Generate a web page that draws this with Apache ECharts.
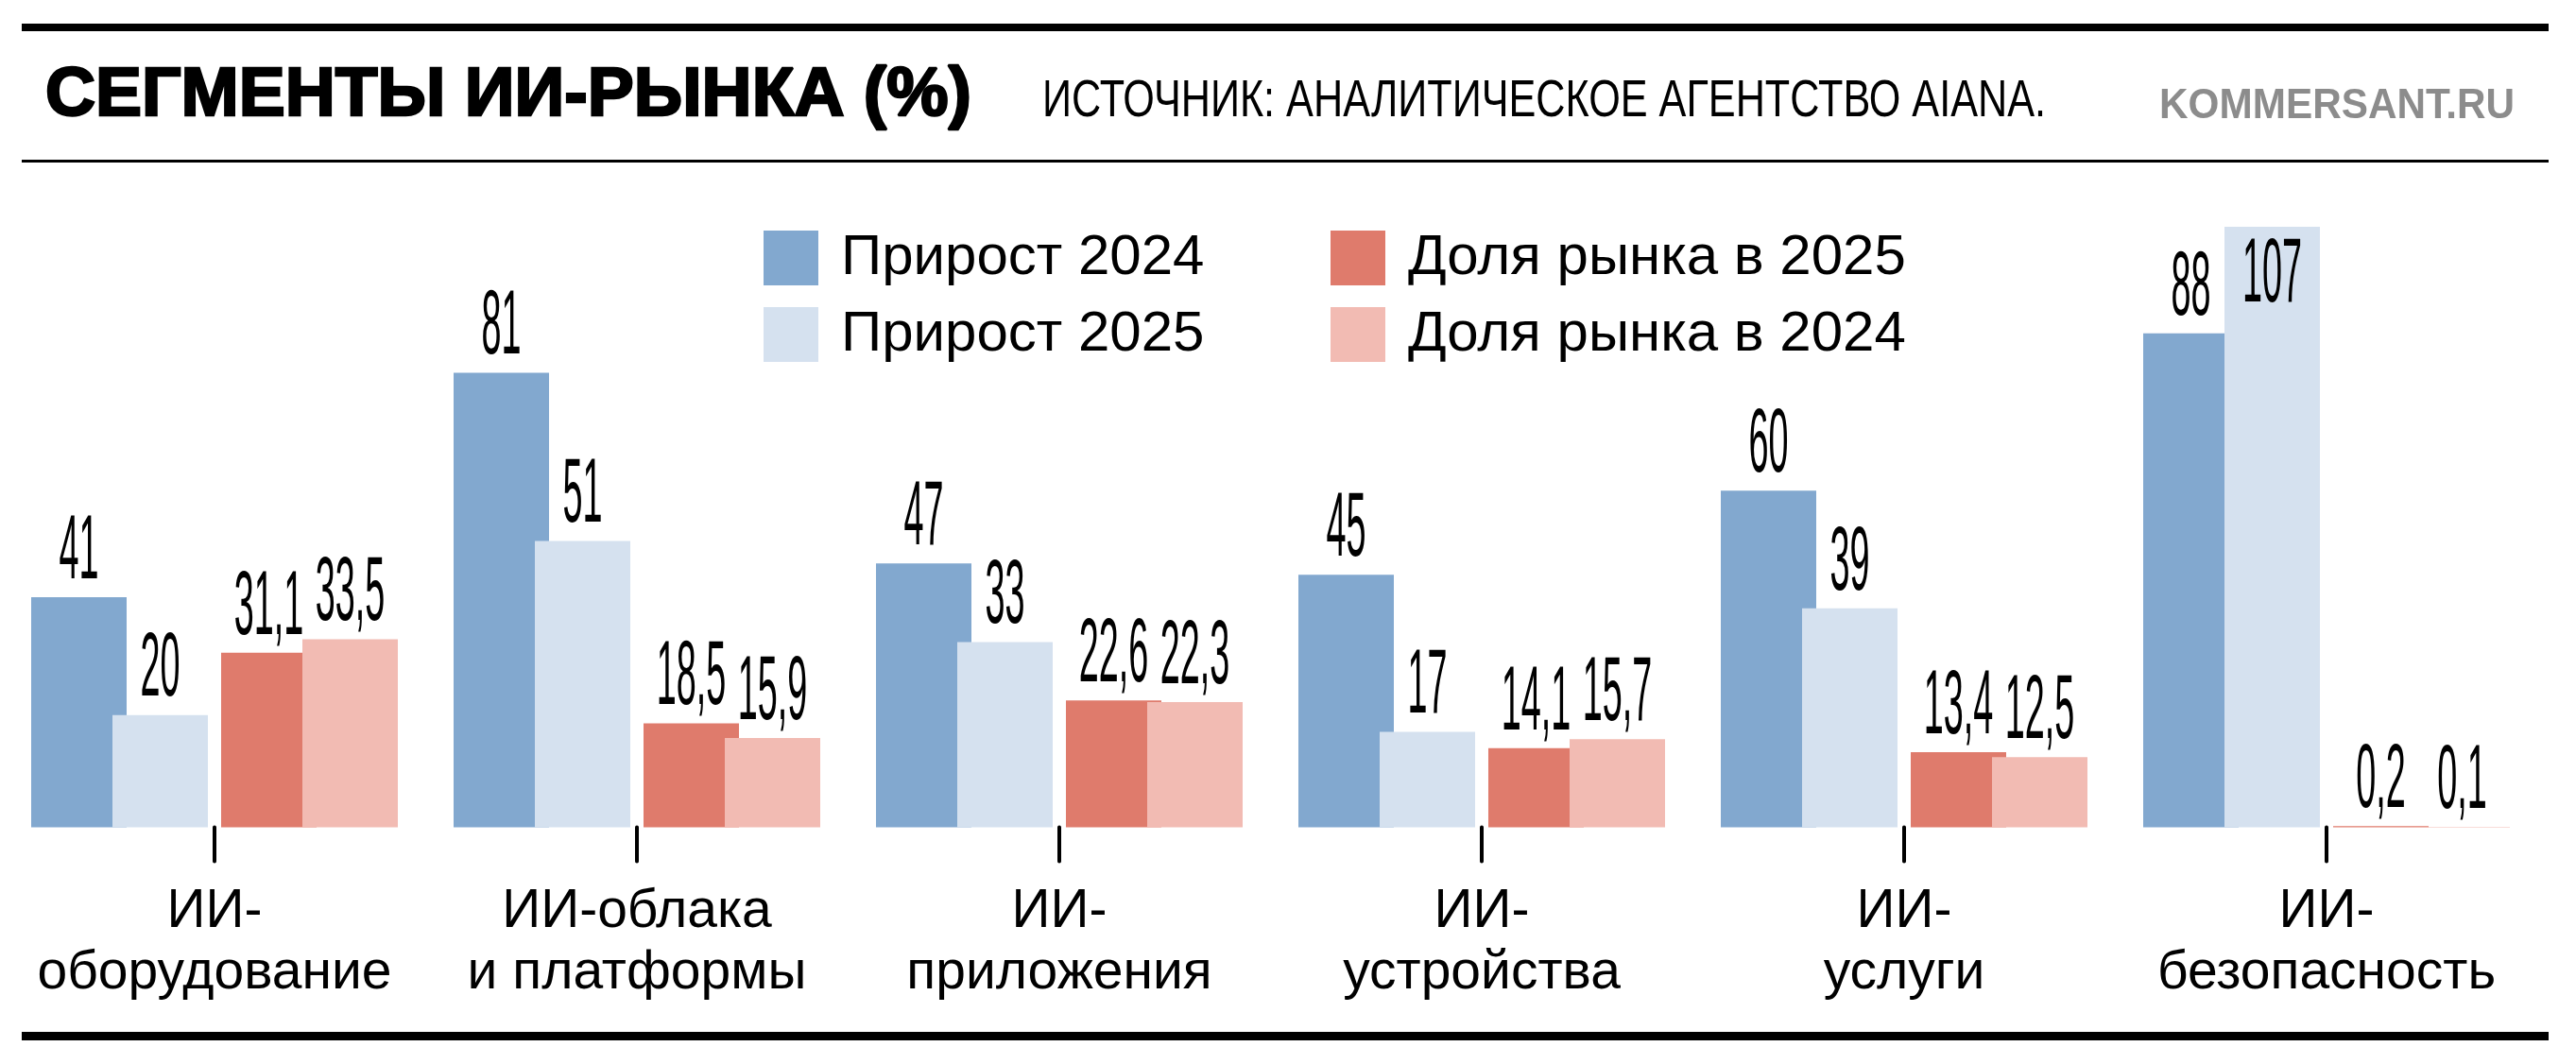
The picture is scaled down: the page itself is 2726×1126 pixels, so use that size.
<!DOCTYPE html>
<html>
<head>
<meta charset="utf-8">
<title>Сегменты ИИ-рынка</title>
<script src="https://cdn.jsdelivr.net/npm/echarts@6/dist/echarts.min.js"></script>
<style>
  html, body { margin: 0; padding: 0; background: #fff; }
  #chart { width: 2726px; height: 1126px; }
</style>
</head>
<body>
<div id="chart"></div>
<script>
var categories = ['ИИ-\nоборудование', 'ИИ-облака\nи платформы', 'ИИ-\nприложения', 'ИИ-\nустройства', 'ИИ-\nуслуги', 'ИИ-\nбезопасность'];
var growth2024 = [41, 81, 47, 45, 60, 88];
var growth2025 = [20, 51, 33, 17, 39, 107];
var share2025 = [31.1, 18.5, 22.6, 14.1, 13.4, 0.2];
var share2024 = [33.5, 15.9, 22.3, 15.7, 12.5, 0.1];
var seriesNames = ['Прирост 2024', 'Прирост 2025', 'Доля рынка в 2025', 'Доля рынка в 2024'];
var colors = ['#82a8cf', '#d5e1ef', '#df7b6c', '#f2bbb3'];

var PLAIN = "'Liberation Sans', Arial, sans-serif";

// plot geometry
var BAND = 447;
var PLOT_LEFT = 3.5;
var PLOT_TOP = 240;
var PLOT_H = 635.5;
var PAIR_SHIFT = 100.5;   // pairs of bars sit left / right of the tick
var BAR_W = 101;
var BAR_OFF = 43;         // bar centre from pair centre

var measureCtx = document.createElement('canvas').getContext('2d');
function textWidth(text, font) {
  measureCtx.font = font;
  return measureCtx.measureText(text).width;
}
function fitScale(text, font, target) {
  return target / textWidth(text, font);
}

// value labels: tall, narrow digits
var LABEL_SIZE = 97;
var labelScale = 42 / textWidth('00', LABEL_SIZE + 'px ' + PLAIN);

function fmt(v) {
  return String(v).replace('.', ',');
}

function labelRenderer(offset) {
  return function (params, api) {
    var v = api.value(1);
    var p = api.coord([api.value(0), v]);
    var top = params.coordSys.y;
    var inside = p[1] - 13 - 69 < top;
    return {
      type: 'text',
      x: p[0] + offset,
      y: inside ? p[1] + 52 : p[1] - 47,
      scaleX: labelScale,
      style: {
        text: fmt(v),
        fontSize: LABEL_SIZE,
        fontFamily: PLAIN,
        fill: '#000',
        align: 'center',
        verticalAlign: 'middle'
      }
    };
  };
}

var valueSets = [growth2024, growth2025, share2025, share2024];
var series = [];
valueSets.forEach(function (vals, k) {
  var axis = k < 2 ? 1 : 2;
  series.push({
    name: seriesNames[k],
    type: 'bar',
    xAxisIndex: axis,
    yAxisIndex: axis,
    data: vals,
    barWidth: BAR_W,
    barGap: '-14.85%',
    itemStyle: { color: colors[k] },
    silent: true
  });
});
valueSets.forEach(function (vals, k) {
  var axis = k < 2 ? 1 : 2;
  series.push({
    name: seriesNames[k] + ' подпись',
    type: 'custom',
    xAxisIndex: axis,
    yAxisIndex: axis,
    data: vals.map(function (v, i) { return [i, v]; }),
    encode: { x: 0, y: 1 },
    renderItem: labelRenderer(k % 2 === 0 ? -BAR_OFF : BAR_OFF),
    z: 10,
    silent: true
  });
});

function grid(left) {
  return {
    left: left, top: PLOT_TOP, width: BAND * categories.length, height: PLOT_H,
    containLabel: false, outerBoundsMode: 'none'
  };
}
function hiddenX(idx) {
  return { type: 'category', gridIndex: idx, data: categories, show: false };
}
function hiddenY(idx) {
  return { type: 'value', gridIndex: idx, min: 0, max: 107, show: false };
}

var titleText = 'СЕГМЕНТЫ ИИ-РЫНКА (%)';
var titleFont = 'bold 73px ' + PLAIN;
var sourceText = 'ИСТОЧНИК: АНАЛИТИЧЕСКОЕ АГЕНТСТВО AIANA.';
var sourceFont = '56px ' + PLAIN;
var brandText = 'KOMMERSANT.RU';
var brandFont = 'bold 44px ' + PLAIN;

var legendText = {
  fontSize: 60,
  fontFamily: PLAIN,
  color: '#000',
  lineHeight: 58,
  padding: [0, 0, 0, 19]
};

var chart = echarts.init(document.getElementById('chart'));
chart.setOption({
  backgroundColor: '#fff',
  animation: false,
  graphic: [
    { type: 'rect', shape: { x: 23, y: 25, width: 2674, height: 8 }, style: { fill: '#000' } },
    { type: 'rect', shape: { x: 23, y: 169, width: 2674, height: 3 }, style: { fill: '#000' } },
    { type: 'rect', shape: { x: 23, y: 1092, width: 2674, height: 9 }, style: { fill: '#000' } },
    {
      type: 'text', x: 48, y: 102,
      scaleX: fitScale(titleText, titleFont, 980),
      style: {
        text: titleText, fontSize: 73, fontWeight: 'bold', fontFamily: PLAIN,
        fill: '#000', stroke: '#000', lineWidth: 2.5, align: 'left', verticalAlign: 'middle'
      }
    },
    {
      type: 'text', x: 1103, y: 108,
      scaleX: fitScale(sourceText, sourceFont, 1062),
      style: {
        text: sourceText, fontSize: 56, fontFamily: PLAIN,
        fill: '#000', align: 'left', verticalAlign: 'middle'
      }
    },
    {
      type: 'text', x: 2285, y: 112.5,
      scaleX: fitScale(brandText, brandFont, 376),
      style: {
        text: brandText, fontSize: 44, fontWeight: 'bold', fontFamily: PLAIN,
        fill: '#8c8c8c', align: 'left', verticalAlign: 'middle'
      }
    }
  ],
  legend: [
    {
      data: [seriesNames[0], seriesNames[1]],
      orient: 'vertical', left: 808, top: 243, padding: 0,
      itemWidth: 58, itemHeight: 58, itemGap: 21, icon: 'rect',
      selectedMode: false, textStyle: legendText
    },
    {
      data: [seriesNames[2], seriesNames[3]],
      orient: 'vertical', left: 1408, top: 243, padding: 0,
      itemWidth: 58, itemHeight: 58, itemGap: 21, icon: 'rect',
      selectedMode: false, textStyle: legendText
    }
  ],
  grid: [grid(PLOT_LEFT), grid(PLOT_LEFT - PAIR_SHIFT), grid(PLOT_LEFT + PAIR_SHIFT)],
  xAxis: [
    {
      type: 'category',
      gridIndex: 0,
      data: categories,
      offset: 10,
      axisLine: { show: false },
      axisTick: {
        show: true, alignWithLabel: true, length: 36,
        lineStyle: { color: '#000', width: 4, cap: 'round' }
      },
      axisLabel: {
        show: true,
        margin: 48,
        fontSize: 57,
        lineHeight: 64.5,
        fontFamily: PLAIN,
        color: '#000',
        interval: 0
      }
    },
    hiddenX(1),
    hiddenX(2)
  ],
  yAxis: [hiddenY(0), hiddenY(1), hiddenY(2)],
  series: series
});
</script>
</body>
</html>
